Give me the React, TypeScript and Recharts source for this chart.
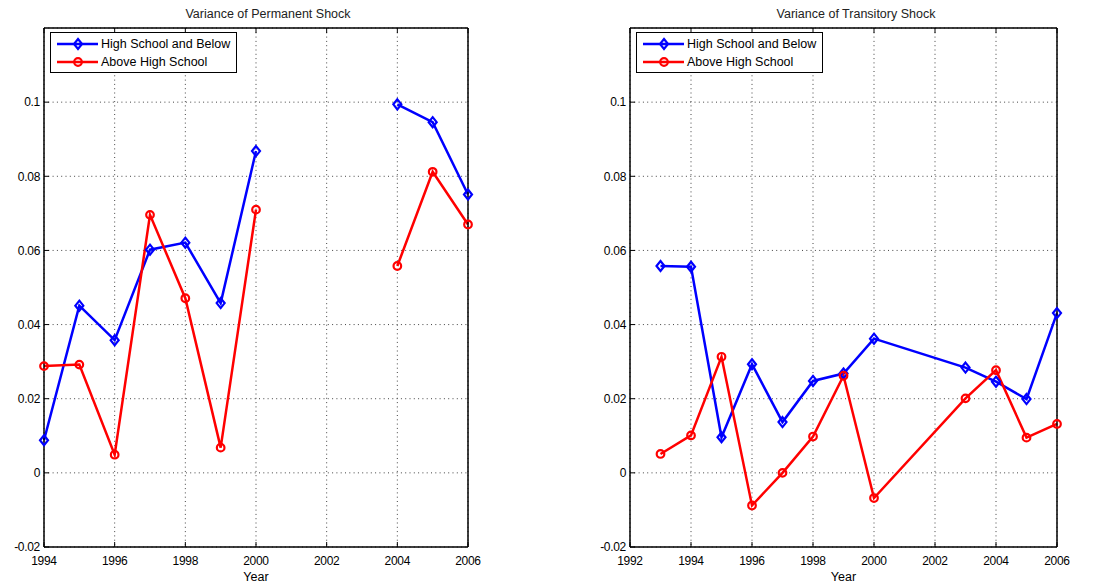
import React from 'react';
import { LineChart, Line, XAxis, YAxis, CartesianGrid, Legend, Label } from 'recharts';

// Variance of permanent shock by education group (no estimates for 2001-2003)
const permYears = [1994, 1995, 1996, 1997, 1998, 1999, 2000, 2001, 2002, 2003, 2004, 2005, 2006];
const permHighSchool = [0.0088, 0.0451, 0.0358, 0.0602, 0.0621, 0.0458, 0.0868, null, null, null, 0.0994, 0.0946, 0.0751];
const permAboveHS = [0.0288, 0.0292, 0.0049, 0.0696, 0.0471, 0.0068, 0.071, null, null, null, 0.0558, 0.0812, 0.067];

// Variance of transitory shock by education group
const transYears = [1993, 1994, 1995, 1996, 1997, 1998, 1999, 2000, 2003, 2004, 2005, 2006];
const transHighSchool = [0.0558, 0.0556, 0.0096, 0.0293, 0.0137, 0.0248, 0.0268, 0.0362, 0.0284, 0.0246, 0.0199, 0.0431];
const transAboveHS = [0.0051, 0.0101, 0.0313, -0.0088, 0.0, 0.0098, 0.0262, -0.0068, 0.0201, 0.0277, 0.0095, 0.0132];

const yTicks = [-0.02, 0, 0.02, 0.04, 0.06, 0.08, 0.1];
const permXTicks = [1994, 1996, 1998, 2000, 2002, 2004, 2006];
const transXTicks = [1992, 1994, 1996, 1998, 2000, 2002, 2004, 2006];

const seriesNames = ['High School and Below', 'Above High School'];
const BLUE = '#0000ff';
const RED = '#ff0000';
const FONT = '"Liberation Sans", Arial, sans-serif';
const LINE_W = 2.5;

const build = (years: number[], a: (number | null)[], b: (number | null)[]) =>
  years.map((year, i) => ({ year, hs: a[i], above: b[i] }));

const permData = build(permYears, permHighSchool, permAboveHS);
const transData = build(transYears, transHighSchool, transAboveHS);

const Diamond = (props: any) => {
  const { cx, cy, index, value } = props;
  if (cx == null || cy == null || value == null || Number.isNaN(cy)) return <g key={`d-${index}`} />;
  return (
    <path
      key={`d-${index}`}
      d={`M${cx},${cy - 5}L${cx + 4},${cy}L${cx},${cy + 5}L${cx - 4},${cy}Z`}
      fill="none"
      stroke={BLUE}
      strokeWidth={2.2}
    />
  );
};

const Ring = (props: any) => {
  const { cx, cy, index, value } = props;
  if (cx == null || cy == null || value == null || Number.isNaN(cy)) return <g key={`r-${index}`} />;
  return <circle key={`r-${index}`} cx={cx} cy={cy} r={3.8} fill="none" stroke={RED} strokeWidth={2.2} />;
};

const LegendBox = () => (
  <div
    style={{
      border: '1.5px solid #000',
      background: '#fff',
      width: 187,
      height: 41,
      boxSizing: 'border-box',
      fontFamily: FONT,
      fontSize: 12.5,
      color: '#000',
      paddingTop: 2,
    }}
  >
    {seriesNames.map((name, i) => (
      <div key={name} style={{ display: 'flex', alignItems: 'center', height: 18 }}>
        <svg width={50} height={18} style={{ flex: 'none' }}>
          <line x1={6} x2={47} y1={9} y2={9} stroke={i === 0 ? BLUE : RED} strokeWidth={LINE_W} />
          {i === 0 ? (
            <path d="M27,4L31,9L27,14L23,9Z" fill="none" stroke={BLUE} strokeWidth={2.2} />
          ) : (
            <circle cx={27} cy={9} r={3.8} fill="none" stroke={RED} strokeWidth={2.2} />
          )}
        </svg>
        <span style={{ whiteSpace: 'nowrap' }}>{name}</span>
      </div>
    ))}
  </div>
);

type PanelProps = {
  left: number;
  width: number;
  marginLeft: number;
  marginRight: number;
  data: any[];
  domain: [number, number];
  xTicks: number[];
  title: string;
  titleCenter: number;
  legendLeft: number;
};

const tickStyle = { fill: '#000', fontSize: 12, fontFamily: FONT, letterSpacing: -0.3 };

const Panel = ({ left, width, marginLeft, marginRight, data, domain, xTicks, title, titleCenter, legendLeft }: PanelProps) => (
  <div style={{ position: 'absolute', left, top: 0, width, height: 584 }}>
    <div
      style={{
        position: 'absolute',
        left: titleCenter - 150,
        width: 300,
        top: 6,
        textAlign: 'center',
        fontFamily: FONT,
        fontSize: 12.5,
        color: '#222',
        lineHeight: '16px',
      }}
    >
      {title}
    </div>
    <LineChart
      width={width}
      height={584}
      data={data}
      margin={{ top: 18, right: marginRight, bottom: 0, left: marginLeft }}
      style={{ position: 'absolute', left: 0, top: 0 }}
    >
      <CartesianGrid xAxisId="b" yAxisId="l" stroke="#444" strokeDasharray="1 3.3" />
      <XAxis
        xAxisId="b"
        dataKey="year"
        type="number"
        domain={domain}
        ticks={xTicks}
        height={37}
        tickSize={-5}
        tickMargin={14}
        axisLine={{ stroke: '#000', strokeWidth: 1.5 }}
        tickLine={{ stroke: '#000' }}
        tick={tickStyle}
        interval={0}
      >
        <Label value="Year" position="insideBottom" offset={3} style={{ fill: '#000', fontSize: 12.5, fontFamily: FONT }} />
      </XAxis>
      <XAxis
        xAxisId="t"
        orientation="top"
        dataKey="year"
        type="number"
        domain={domain}
        ticks={xTicks}
        height={10}
        tickSize={-5}
        tickFormatter={() => ''}
        axisLine={{ stroke: '#000', strokeWidth: 1.5 }}
        tickLine={{ stroke: '#000' }}
        interval={0}
      />
      <YAxis
        yAxisId="l"
        type="number"
        domain={[-0.02, 0.12]}
        ticks={yTicks}
        width={40}
        tickSize={-5}
        tickMargin={9}
        tickFormatter={(v: number) => String(v)}
        axisLine={{ stroke: '#000', strokeWidth: 1.5 }}
        tickLine={{ stroke: '#000' }}
        tick={tickStyle}
        interval={0}
      />
      <YAxis
        yAxisId="r"
        orientation="right"
        type="number"
        domain={[-0.02, 0.12]}
        ticks={yTicks}
        width={10}
        tickSize={-5}
        tickFormatter={() => ''}
        axisLine={{ stroke: '#000', strokeWidth: 1.5 }}
        tickLine={{ stroke: '#000' }}
        interval={0}
      />
      <Legend
        layout="horizontal"
        verticalAlign="middle"
        align="center"
        content={() => <LegendBox />}
        wrapperStyle={{ left: legendLeft, top: 32, width: 'auto', height: 'auto' }}
      />
      <Line
        xAxisId="b"
        yAxisId="l"
        dataKey="hs"
        name={seriesNames[0]}
        stroke={BLUE}
        strokeWidth={LINE_W}
        dot={Diamond}
        activeDot={false}
        isAnimationActive={false}
      />
      <Line
        xAxisId="b"
        yAxisId="l"
        dataKey="above"
        name={seriesNames[1]}
        stroke={RED}
        strokeWidth={LINE_W}
        dot={Ring}
        activeDot={false}
        isAnimationActive={false}
      />
    </LineChart>
  </div>
);

export default function App() {
  return (
    <div style={{ position: 'absolute', left: 0, top: 0, width: 1105, height: 584, background: '#fff' }}>
      <Panel
        left={0}
        width={550}
        marginLeft={4}
        marginRight={72}
        data={permData}
        domain={[1994, 2006]}
        xTicks={permXTicks}
        title="Variance of Permanent Shock"
        titleCenter={268}
        legendLeft={50}
      />
      <Panel
        left={560}
        width={545}
        marginLeft={30}
        marginRight={38}
        data={transData}
        domain={[1992, 2006]}
        xTicks={transXTicks}
        title="Variance of Transitory Shock"
        titleCenter={296}
        legendLeft={76}
      />
    </div>
  );
}
